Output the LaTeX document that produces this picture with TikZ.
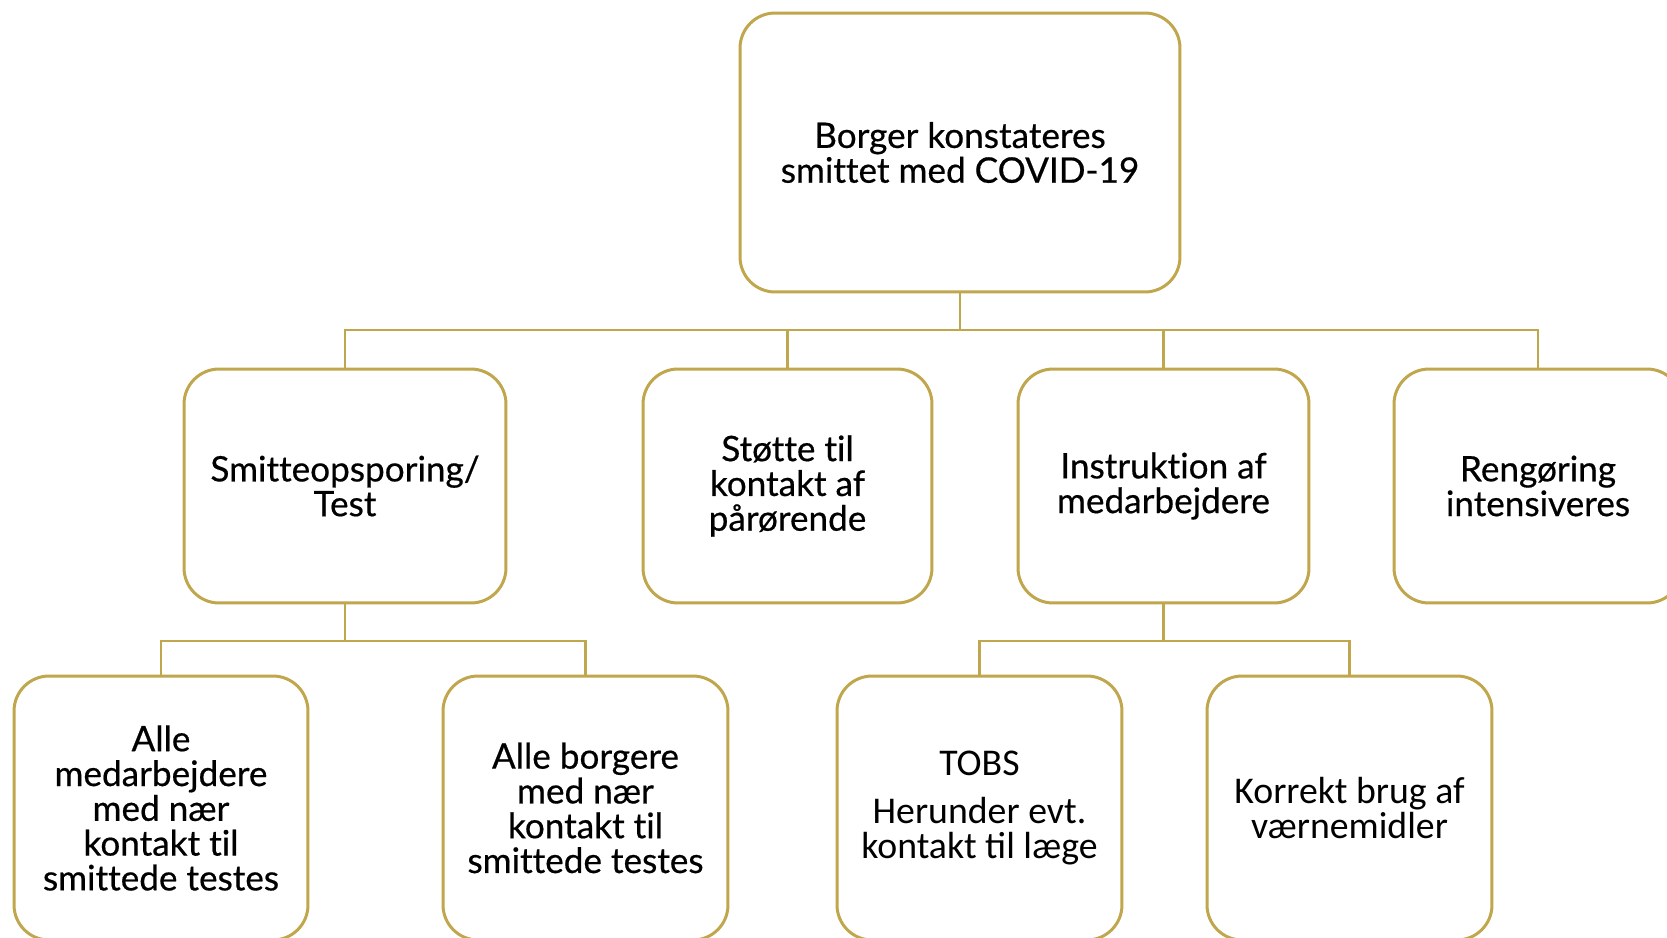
\documentclass[tikz,border=0pt]{standalone}
\usepackage{fontspec}
\setmainfont{Lato}[Ligatures=NoCommon,FakeBold=0.5]
\newfontfamily\calfont{Carlito}
\usepackage{tikz}
\definecolor{guld}{RGB}{192,166,76}

\begin{document}
\begin{tikzpicture}[x=0.02cm,y=-0.02cm,
	box/.style={draw=guld,line width=1.7pt,rounded corners=0.7cm,align=center,inner sep=0pt,
		font=\fontsize{20}{19.8}\selectfont},
	calbox/.style={box,font=\calfont\fontsize{21.5}{20}\selectfont},
	link/.style={draw=guld,line width=1.6pt}]
	
	\clip (0,0) rectangle (1667,937);
	\fill[white] (0,0) rectangle (1667,937);
	
	\node[box,minimum width=8.8cm,minimum height=5.58cm] (borger) at (960, 152.5) {Borger konstateres\\smittet med COVID-19};
	
	\node[box,minimum width=6.44cm,minimum height=4.68cm] (smitte) at (345, 486) {Smitteopsporing/\\Test};
	\node[box,minimum width=5.78cm,minimum height=4.68cm] (stoette) at (787.5, 486) {Støtte til\\kontakt af\\pårørende};
	\node[box,minimum width=5.82cm,minimum height=4.68cm] (instruks) at (1163.5, 486) {Instruktion af\\medarbejdere};
	\node[box,minimum width=5.76cm,minimum height=4.68cm] (rengoer) at (1538, 486) {Rengøring\\intensiveres};
	
	\node[box,minimum width=5.88cm,minimum height=5.28cm] (medarb) at (161, 808) {Alle\\medarbejdere\\med nær\\kontakt til\\smittede testes};
	\node[box,minimum width=5.7cm,minimum height=5.28cm] (borgere) at (585.5, 808) {Alle borgere\\med nær\\kontakt til\\smittede testes};
	\node[calbox,minimum width=5.7cm,minimum height=5.28cm] (tobs) at (979.5, 808) {TOBS\\[0.25cm]Herunder evt.\\kontakt til læge};
	\node[calbox,minimum width=5.7cm,minimum height=5.28cm] (vaern) at (1349.5, 808) {Korrekt brug af\\værnemidler};
	
	\coordinate (bus1) at (960, 330);
	\coordinate (bus2) at (345, 641);
	\coordinate (bus3) at (1163.5, 641);
	
	\draw[link] (borger.south) -- (bus1);
	\draw[link] (bus1) -| (smitte.north);
	\draw[link] (bus1) -| (stoette.north);
	\draw[link] (bus1) -| (instruks.north);
	\draw[link] (bus1) -| (rengoer.north);
	\draw[link] (smitte.south) -- (bus2);
	\draw[link] (bus2) -| (medarb.north);
	\draw[link] (bus2) -| (borgere.north);
	\draw[link] (instruks.south) -- (bus3);
	\draw[link] (bus3) -| (tobs.north);
	\draw[link] (bus3) -| (vaern.north);
	
\end{tikzpicture}
\end{document}
